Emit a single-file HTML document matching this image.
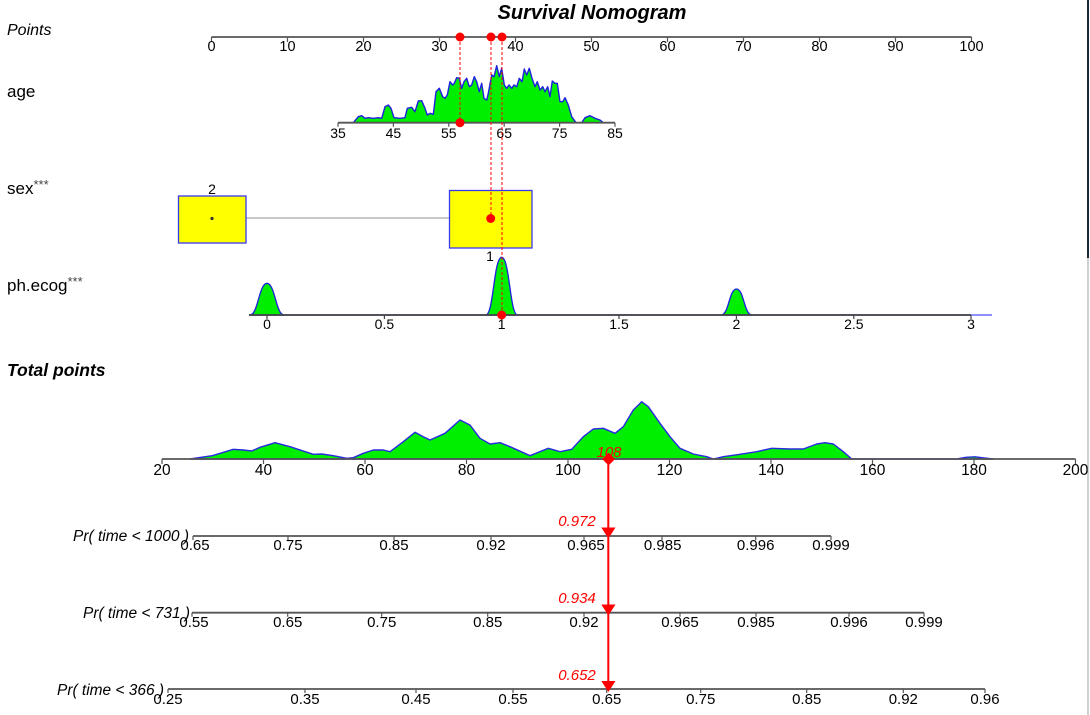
<!DOCTYPE html>
<html>
<head>
<meta charset="utf-8">
<style>
html,body{margin:0;padding:0;background:#fff;}
svg{display:block;}
text{font-family:"Liberation Sans",Arial,sans-serif;}
</style>
</head>
<body>
<svg width="1090" height="715" viewBox="0 0 1090 715" xmlns="http://www.w3.org/2000/svg">
<rect x="0" y="0" width="1090" height="715" fill="#fff"/>

<!-- Title -->
<text x="592" y="19" font-size="20" font-weight="bold" font-style="italic" text-anchor="middle">Survival Nomogram</text>

<!-- Left labels -->
<text x="7" y="35" font-size="16" font-style="italic">Points</text>
<text x="7" y="97" font-size="17">age</text>
<text x="7" y="194" font-size="17">sex<tspan font-size="13" style="fill:#444" dy="-5">***</tspan></text>
<text x="7" y="291" font-size="17">ph.ecog<tspan font-size="13" style="fill:#444" dy="-5">***</tspan></text>
<text x="7" y="376" font-size="17.5" font-weight="bold" font-style="italic">Total points</text>

<!-- Points axis -->
<g stroke="#555" stroke-width="1.8" fill="none">
<line x1="211.5" y1="37" x2="971.5" y2="37"/>
<path d="M211.5 37v5M287.5 37v5M363.5 37v5M439.5 37v5M515.5 37v5M591.5 37v5M667.5 37v5M743.5 37v5M819.5 37v5M895.5 37v5M971.5 37v5" stroke-width="1.2"/>
</g>
<g font-size="14.5" text-anchor="middle">
<text x="211.5" y="51">0</text><text x="287.5" y="51">10</text><text x="363.5" y="51">20</text>
<text x="439.5" y="51">30</text><text x="515.5" y="51">40</text><text x="591.5" y="51">50</text>
<text x="667.5" y="51">60</text><text x="743.5" y="51">70</text><text x="819.5" y="51">80</text>
<text x="895.5" y="51">90</text><text x="971.5" y="51">100</text>
</g>

<!-- Age density -->
<path d="M353.3,122.7 L358.3,116.7 L361.7,115.7 L365,118.3 L368.3,117.7 L373.3,118.3 L378.3,117.7 L381.7,118.3 L385,106.7 L388.3,105 L391,108.3 L394,117.7 L400,118.3 L405,117.7 L407.3,108.3 L411.7,107.3 L415,111.7 L418.3,101 L421.7,100.7 L425,108.3 L427.3,115 L430,113.3 L433.3,114.3 L436,91.7 L439.3,88.3 L442.7,96.7 L445,98.3 L447.3,95 L450,81.7 L452.7,85 L454.3,83.3 L456.7,77.7 L459.3,78.3 L461.7,88.3 L464,81.7 L466.7,78.3 L469.3,86.7 L471.7,85 L474.3,76.7 L476.7,81.7 L479.3,91.7 L481.7,83.3 L484,98.3 L486.7,100 L488.3,93.3 L491.7,75 L494,76.7 L496.7,65.7 L499.3,76.7 L501.7,68.3 L504.3,85 L506.7,88.3 L509,85 L511.7,88.3 L514,85 L516.7,86.7 L519.3,78.3 L522,81.7 L524.3,69 L526.7,75 L529.3,68.3 L532,78.3 L535,86.7 L537.3,81.7 L540,90 L542.7,86.7 L545,91.7 L547.7,86.7 L550,96.7 L552.3,81 L555,83.3 L557.3,83.3 L560,101.7 L562.7,101.7 L565,97.7 L568.3,105 L571.7,116.7 L576,122.7 L581.7,122.7 L585,117.7 L590,115.7 L595,118.3 L600,120 L603.3,122.7 Z" fill="#00ee00" stroke="#2020e0" stroke-width="1.4" stroke-linejoin="round"/>
<g stroke="#555" fill="none">
<line x1="338" y1="122.7" x2="615" y2="122.7" stroke-width="1.8"/>
<path d="M338 122.7v4M393.4 122.7v4M448.8 122.7v4M504.2 122.7v4M559.6 122.7v4M615 122.7v4" stroke-width="1.2"/>
</g>
<g font-size="14" text-anchor="middle">
<text x="338" y="138">35</text><text x="393.4" y="138">45</text><text x="448.8" y="138">55</text>
<text x="504.2" y="138">65</text><text x="559.6" y="138">75</text><text x="615" y="138">85</text>
</g>

<!-- Sex -->
<line x1="246" y1="218" x2="449" y2="218" stroke="#c8c8c8" stroke-width="2"/>
<rect x="178.5" y="196" width="67.5" height="47" fill="#ffff00" stroke="#3838f0" stroke-width="1.3"/>
<rect x="449.5" y="190.5" width="82.5" height="57.5" fill="#ffff00" stroke="#3838f0" stroke-width="1.3"/>
<circle cx="212" cy="218.5" r="1.6" fill="#333"/>
<text x="212" y="194" font-size="14" text-anchor="middle">2</text>
<text x="490" y="261" font-size="14" text-anchor="middle">1</text>

<!-- ph.ecog -->
<line x1="249" y1="315" x2="992" y2="315" stroke="#6a6aff" stroke-width="1.5"/>
<path d="M250,315 C258,315 259,283.3 267,283.3 C275,283.3 276,315 284,315 Z" fill="#00ee00" stroke="#2020e0" stroke-width="1.3"/>
<path d="M485.7,315 C493.7,315 493.7,257.3 501.7,257.3 C509.7,257.3 509.7,315 517.7,315 Z" fill="#00ee00" stroke="#2020e0" stroke-width="1.3"/>
<path d="M721,315 C729,315 729,289 736.5,289 C744,289 744,315 752,315 Z" fill="#00ee00" stroke="#2020e0" stroke-width="1.3"/>
<g stroke="#444" fill="none">
<line x1="249" y1="315" x2="971" y2="315" stroke-width="1.8"/>
<path d="M267 315v4M384.4 315v4M501.7 315v4M619 315v4M736.4 315v4M853.8 315v4M971 315v4" stroke-width="1.2"/>
</g>
<g font-size="14" text-anchor="middle">
<text x="267" y="329">0</text><text x="384.4" y="329">0.5</text><text x="501.7" y="329">1</text>
<text x="619" y="329">1.5</text><text x="736.4" y="329">2</text><text x="853.8" y="329">2.5</text><text x="971" y="329">3</text>
</g>

<!-- Red dashed guides and dots -->
<g stroke="#ff0000" stroke-width="1" stroke-dasharray="3,2" fill="none">
<line x1="460" y1="37" x2="460" y2="122.7"/>
<line x1="491" y1="37" x2="491" y2="218"/>
<line x1="502" y1="37" x2="502" y2="315"/>
</g>
<g fill="#ff0000">
<circle cx="460" cy="37" r="4.5"/><circle cx="491" cy="37" r="4.5"/><circle cx="502" cy="37" r="4.5"/>
<circle cx="460" cy="122.7" r="4.5"/>
<circle cx="490.7" cy="218.5" r="4.5"/>
<circle cx="501.7" cy="315" r="4.5"/>
</g>

<!-- Total points density -->
<path d="M190,459 L212.3,455.7 L233.3,449.3 L243.3,450 L251.7,451 L260,447.3 L275,442.7 L290,446.7 L313.3,454.3 L321.7,454 L333.3,455.7 L346.7,458.3 L353.3,457.7 L363.3,453.3 L373.3,450 L383.3,450 L390,451.7 L403.3,441.7 L415,432.3 L423.3,436.7 L430,440 L445,433.3 L460,420 L470,425 L480,438.3 L490,444 L500,442.7 L510,446.7 L530,455.7 L548.3,448.3 L560,451.7 L571.7,449.3 L583.3,436.7 L593.3,429 L603.3,428.3 L615,433.3 L623.3,426.7 L633.3,410 L641.7,401.7 L648.3,406.7 L660,423.3 L670,436.7 L680,448.3 L693.3,454 L706.7,456.7 L713.3,459 L723.3,456.7 L740,454.3 L756.7,451.7 L771.7,448.3 L790,449 L803.3,449 L816.7,444 L825,442.7 L833.3,444 L843.3,451.7 L851.7,459 L956.7,459 L966,457.3 L975,456.8 L984,458 L993,459 Z" fill="#00ee00" stroke="#2a2ae0" stroke-width="1.4" stroke-linejoin="round"/>
<g stroke="#555" fill="none">
<line x1="162" y1="459" x2="1075.5" y2="459" stroke-width="1.8"/>
<path d="M162 459v5M263.5 459v5M365 459v5M466.5 459v5M568 459v5M669.5 459v5M771 459v5M872.5 459v5M974 459v5M1075.5 459v5" stroke-width="1.2"/>
</g>
<g font-size="15.5" text-anchor="middle">
<text x="162" y="475">20</text><text x="263.5" y="475">40</text><text x="365" y="475">60</text>
<text x="466.5" y="475">80</text><text x="568" y="475">100</text><text x="669.5" y="475">120</text>
<text x="771" y="475">140</text><text x="872.5" y="475">160</text><text x="974" y="475">180</text>
<text x="1075.5" y="475">200</text>
</g>

<!-- Probability axes -->
<g font-size="15.5" font-style="italic">
<text x="73" y="541" textLength="116" lengthAdjust="spacingAndGlyphs">Pr( time &lt; 1000 )</text>
<text x="83" y="618" textLength="107" lengthAdjust="spacingAndGlyphs">Pr( time &lt; 731 )</text>
<text x="57" y="695" textLength="107" lengthAdjust="spacingAndGlyphs">Pr( time &lt; 366 )</text>
</g>
<g stroke="#555" fill="none">
<line x1="193" y1="536" x2="831" y2="536" stroke-width="1.8"/>
<path d="M193 536v4M288 536v4M394 536v4M491 536v4M584 536v4M662 536v4M755.7 536v4M831 536v4" stroke-width="1.2"/>
<line x1="192" y1="612.7" x2="924" y2="612.7" stroke-width="1.8"/>
<path d="M192 612.7v4M287.7 612.7v4M381.7 612.7v4M487.7 612.7v4M584 612.7v4M680 612.7v4M756 612.7v4M849 612.7v4M924 612.7v4" stroke-width="1.2"/>
<line x1="168" y1="689" x2="985" y2="689" stroke-width="1.8"/>
<path d="M168 689v4M305 689v4M416 689v4M513 689v4M606.7 689v4M700.7 689v4M806.7 689v4M903.3 689v4M985 689v4" stroke-width="1.2"/>
</g>
<g font-size="15" text-anchor="middle">
<text x="195" y="550">0.65</text><text x="288" y="550">0.75</text><text x="394" y="550">0.85</text>
<text x="491" y="550">0.92</text><text x="586" y="550">0.965</text><text x="662.7" y="550">0.985</text>
<text x="755.7" y="550">0.996</text><text x="831" y="550">0.999</text>

<text x="194" y="627">0.55</text><text x="287.7" y="627">0.65</text><text x="381.7" y="627">0.75</text>
<text x="487.7" y="627">0.85</text><text x="584" y="627">0.92</text><text x="680" y="627">0.965</text>
<text x="756" y="627">0.985</text><text x="849" y="627">0.996</text><text x="924" y="627">0.999</text>

<text x="168" y="704">0.25</text><text x="305" y="704">0.35</text><text x="416" y="704">0.45</text>
<text x="513" y="704">0.55</text><text x="606.7" y="704">0.65</text><text x="700.7" y="704">0.75</text>
<text x="806.7" y="704">0.85</text><text x="903.3" y="704">0.92</text><text x="985" y="704">0.96</text>
</g>

<!-- Red prediction -->
<line x1="608.3" y1="459" x2="608.3" y2="689" stroke="#ff0000" stroke-width="2"/>
<polygon points="608.6,452.5 615,459 608.6,465.5 602.2,459" fill="#ff0000"/>
<g fill="#ff0000">
<polygon points="601.3,527.5 615.5,527.5 608.4,538.5"/>
<polygon points="601.3,604.5 615.5,604.5 608.4,615.5"/>
<polygon points="601.3,681 615.5,681 608.4,692"/>
</g>
<g font-size="15" font-style="italic" text-anchor="middle">
<text x="609" y="457" style="fill:#ff0000">108</text>
<text x="577" y="526" style="fill:#ff0000">0.972</text>
<text x="577" y="603" style="fill:#ff0000">0.934</text>
<text x="577" y="680" style="fill:#ff0000">0.652</text>
</g>

<!-- Right border -->
<rect x="1087" y="0" width="2" height="258" fill="#1c2a36"/>
<line x1="1088" y1="258" x2="1088" y2="715" stroke="#a0a0a0" stroke-width="1"/>
</svg>
</body>
</html>
